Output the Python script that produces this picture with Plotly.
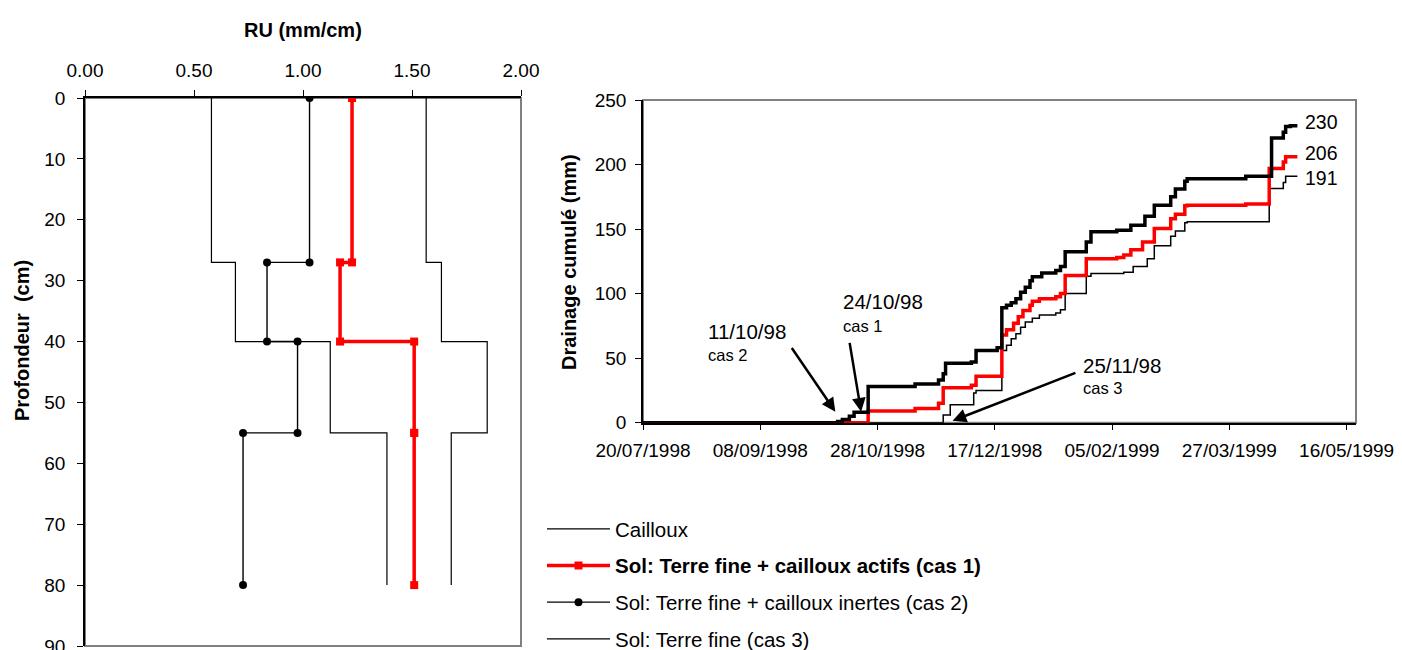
import plotly.graph_objects as go

# ---------------- Left chart data (RU profiles) ----------------
layer_tops = [0, 27, 40, 55]
layer_bottoms = [27, 40, 55, 80]
ru_cailloux = [0.58, 0.69, 1.125, 1.385]
ru_cas1 = [1.225, 1.17, 1.51, 1.51]
ru_cas2 = [1.03, 0.835, 0.975, 0.725]
ru_cas3 = [1.565, 1.635, 1.845, 1.68]

names = ["Cailloux",
         "<b>Sol: Terre fine + cailloux actifs (cas 1)</b>",
         "Sol: Terre fine + cailloux inertes (cas 2)",
         "Sol: Terre fine (cas 3)"]

# ---------------- Right chart data (cumulative drainage) ----------------
cas2_dates = ["1998-07-20", "1998-10-11", "1998-10-13", "1998-10-16", "1998-10-18",
              "1998-10-24", "1998-11-13", "1998-11-23", "1998-11-25", "1998-11-26",
              "1998-12-07", "1998-12-09", "1998-12-18", "1998-12-20", "1998-12-22",
              "1998-12-24", "1998-12-26", "1998-12-28", "1998-12-30", "1999-01-01",
              "1999-01-02", "1999-01-06", "1999-01-12", "1999-01-14", "1999-01-16",
              "1999-01-25", "1999-01-27", "1999-02-07", "1999-02-13", "1999-02-19",
              "1999-02-23", "1999-03-02", "1999-03-04", "1999-03-08", "1999-03-09",
              "1999-04-03", "1999-04-14", "1999-04-19", "1999-04-20", "1999-04-22",
              "1999-04-25"]
cas2_values = [0, 1, 2.5, 5, 8,
               28, 30, 33, 38, 46,
               47, 56, 58, 89, 91,
               93, 96, 101, 105, 110,
               113, 116, 118, 121, 132.5,
               140, 148, 149, 153, 160,
               168.5, 175, 181, 187, 189,
               191, 220.5, 225, 229.5, 230,
               230]

cas1_dates = ["1998-07-20", "1998-10-24", "1998-11-13", "1998-11-23", "1998-11-25",
              "1998-12-07", "1998-12-09", "1998-12-20", "1998-12-22", "1998-12-25",
              "1998-12-27", "1998-12-29", "1999-01-01", "1999-01-02", "1999-01-05",
              "1999-01-12", "1999-01-14", "1999-01-16", "1999-01-25", "1999-02-07",
              "1999-02-10", "1999-02-13", "1999-02-18", "1999-02-23", "1999-03-02",
              "1999-03-04", "1999-03-08", "1999-03-09", "1999-04-03", "1999-04-13",
              "1999-04-19", "1999-04-20", "1999-04-25"]
cas1_values = [0, 9, 11, 15, 27,
               29, 36, 68, 72, 77,
               82, 87, 91, 94, 96,
               97.5, 100, 114, 127, 128,
               130, 134, 140, 150.5, 158,
               161.5, 168, 168.5, 169.5, 197,
               202, 206, 206]

cas3_dates = ["1998-07-20", "1998-11-25", "1998-11-28", "1998-12-08", "1998-12-09",
              "1998-12-20", "1998-12-22", "1998-12-24", "1998-12-26", "1998-12-28",
              "1998-12-30", "1999-01-02", "1999-01-05", "1999-01-12", "1999-01-14",
              "1999-01-16", "1999-01-25", "1999-01-27", "1999-02-10", "1999-02-14",
              "1999-02-20", "1999-02-23", "1999-03-02", "1999-03-04", "1999-03-08",
              "1999-03-09", "1999-04-13", "1999-04-19", "1999-04-20", "1999-04-25"]
cas3_values = [0, 6, 14, 23, 25,
               56, 60, 65, 69, 74,
               78, 81, 83.5, 85, 87.5,
               100, 113.5, 115.5, 116.5, 121,
               127, 137, 144.5, 148.5, 155,
               155.7, 181.5, 186, 191, 191]

date_tick0 = "1998-07-20"
date_range = ["1998-07-20", "1999-05-20"]

FONT = "Liberation Sans, Arial, sans-serif"
# page body has an 8px margin: figure is placed at (8, 8) in the window
OX, OY = 8, 8
W, H = 1394, 650


def px(x):
    return (x - OX) / W


def py(y):
    return 1 - (y - OY) / H


def profile(vals):
    xs, ys = [], []
    for v, t, b in zip(vals, layer_tops, layer_bottoms):
        xs += [v, v]
        ys += [t, b]
    return xs, ys


fig = go.Figure()

# Left chart traces (with legend)
x, y = profile(ru_cailloux)
fig.add_trace(go.Scatter(x=x, y=y, mode="lines", name=names[0], legendgroup="a",
                         line=dict(color="black", width=1.2), xaxis="x", yaxis="y"))
x, y = profile(ru_cas1)
fig.add_trace(go.Scatter(x=x, y=y, mode="lines+markers", name=names[1], legendgroup="b",
                         line=dict(color="#ff0000", width=3.5),
                         marker=dict(symbol="square", size=8, color="#ff0000"),
                         xaxis="x", yaxis="y"))
x, y = profile(ru_cas2)
fig.add_trace(go.Scatter(x=x, y=y, mode="lines+markers", name=names[2], legendgroup="c",
                         line=dict(color="black", width=1.4),
                         marker=dict(symbol="circle", size=8, color="black"),
                         xaxis="x", yaxis="y"))
x, y = profile(ru_cas3)
fig.add_trace(go.Scatter(x=x, y=y, mode="lines", name=names[3], legendgroup="d",
                         line=dict(color="black", width=1.2), xaxis="x", yaxis="y"))

# Right chart traces
fig.add_trace(go.Scatter(x=cas3_dates, y=cas3_values, mode="lines", line_shape="hv",
                         line=dict(color="black", width=1.5), showlegend=False,
                         xaxis="x2", yaxis="y2"))
fig.add_trace(go.Scatter(x=cas1_dates, y=cas1_values, mode="lines", line_shape="hv",
                         line=dict(color="#ff0000", width=3.5), showlegend=False,
                         xaxis="x2", yaxis="y2"))
fig.add_trace(go.Scatter(x=cas2_dates, y=cas2_values, mode="lines", line_shape="hv",
                         line=dict(color="black", width=3.5), showlegend=False,
                         xaxis="x2", yaxis="y2"))

tickfont = dict(family=FONT, size=19, color="black")
common = dict(showgrid=False, zeroline=False, showline=True, linecolor="black",
              linewidth=1.5, ticks="outside", ticklen=6, tickcolor="black",
              tickwidth=1.2, tickfont=tickfont, automargin=False)

fig.update_layout(
    width=W, height=H,
    margin=dict(l=0, r=0, t=0, b=0, pad=0, autoexpand=False),
    paper_bgcolor="white", plot_bgcolor="white",
    font=dict(family=FONT, color="black"),
    xaxis=dict(domain=[px(85), px(521)], range=[0, 2], side="top", dtick=0.5,
               tick0=0, tickformat=".2f", anchor="y", ticklabelstandoff=6, **common),
    yaxis=dict(domain=[py(646), py(98)], range=[90, 0], dtick=10, anchor="x",
               ticklabelstandoff=8, **common),
    xaxis2=dict(domain=[px(643), px(1356)], type="date", range=date_range,
                tick0=date_tick0, dtick=50 * 86400000, tickformat="%d/%m/%Y",
                anchor="y2", ticklabelstandoff=4, **common),
    yaxis2=dict(domain=[py(422.7), py(100)], range=[0, 250], dtick=50,
                anchor="x2", ticklabelstandoff=5, **common),
    legend=dict(x=px(542), y=py(509), xanchor="left", yanchor="top",
                font=dict(family=FONT, size=20.5, color="black"),
                itemwidth=63, tracegroupgap=7, bgcolor="rgba(0,0,0,0)",
                borderwidth=0),
)

# gray frames
for xr, yr in (("x domain", "y domain"), ("x2 domain", "y2 domain")):
    fig.add_shape(type="rect", xref=xr, yref=yr, x0=0, x1=1, y0=0, y1=1,
                  line=dict(color="#808080", width=2), layer="below")

title_font = dict(family=FONT, size=20, color="black")
fig.add_annotation(text="<b>RU (mm/cm)</b>", xref="paper", yref="paper",
                   x=px(303), y=py(30), xanchor="center", yanchor="middle",
                   showarrow=False, font=title_font)
fig.add_annotation(text="<b>Profondeur  (cm)</b>", xref="paper", yref="paper",
                   x=px(22), y=py(341), xanchor="center", yanchor="middle",
                   showarrow=False, textangle=-90, font=title_font)
fig.add_annotation(text="<b>Drainage cumulé (mm)</b>", xref="paper", yref="paper",
                   x=px(569), y=py(262), xanchor="center", yanchor="middle",
                   showarrow=False, textangle=-90, font=title_font)

# final value labels
for d, v, ys in ((cas2_dates, cas2_values, 4), (cas1_dates, cas1_values, 4),
                 (cas3_dates, cas3_values, -2)):
    fig.add_annotation(text=f"{v[-1]:.0f}", x=d[-1], y=v[-1], xref="x2", yref="y2",
                       xanchor="left", yanchor="middle", showarrow=False, xshift=6,
                       yshift=ys, font=dict(family=FONT, size=19.5, color="black"))

# event arrows + labels
arrows = [  # tip date, tip value, tail date, tail value
    ("1998-10-10", 8.5, "1998-09-21", 59),
    ("1998-10-21", 8.5, "1998-10-16", 63),
    ("1998-11-29", 1.5, "1999-01-21", 39),
]
for tx, ty, ax, ay in arrows:
    fig.add_annotation(x=tx, y=ty, ax=ax, ay=ay, xref="x2", yref="y2", axref="x2",
                       ayref="y2", text="", showarrow=True, arrowhead=2,
                       arrowsize=1.1, arrowwidth=2.5, arrowcolor="black")

labels = [  # date text, cas text, left x px, date y px, cas y px
    ("11/10/98", "cas 2", 706, 331, 355),
    ("24/10/98", "cas 1", 841, 301, 326),
    ("25/11/98", "cas 3", 1081, 365, 388),
]
for dt, cs, lx, y1, y2 in labels:
    fig.add_annotation(text=dt, xref="paper", yref="paper", x=px(lx), y=py(y1),
                       xanchor="left", yanchor="middle", showarrow=False,
                       font=dict(family=FONT, size=20.5, color="black"))
    fig.add_annotation(text=cs, xref="paper", yref="paper", x=px(lx), y=py(y2),
                       xanchor="left", yanchor="middle", showarrow=False,
                       font=dict(family=FONT, size=16.5, color="black"))

fig.write_html("out.html")
